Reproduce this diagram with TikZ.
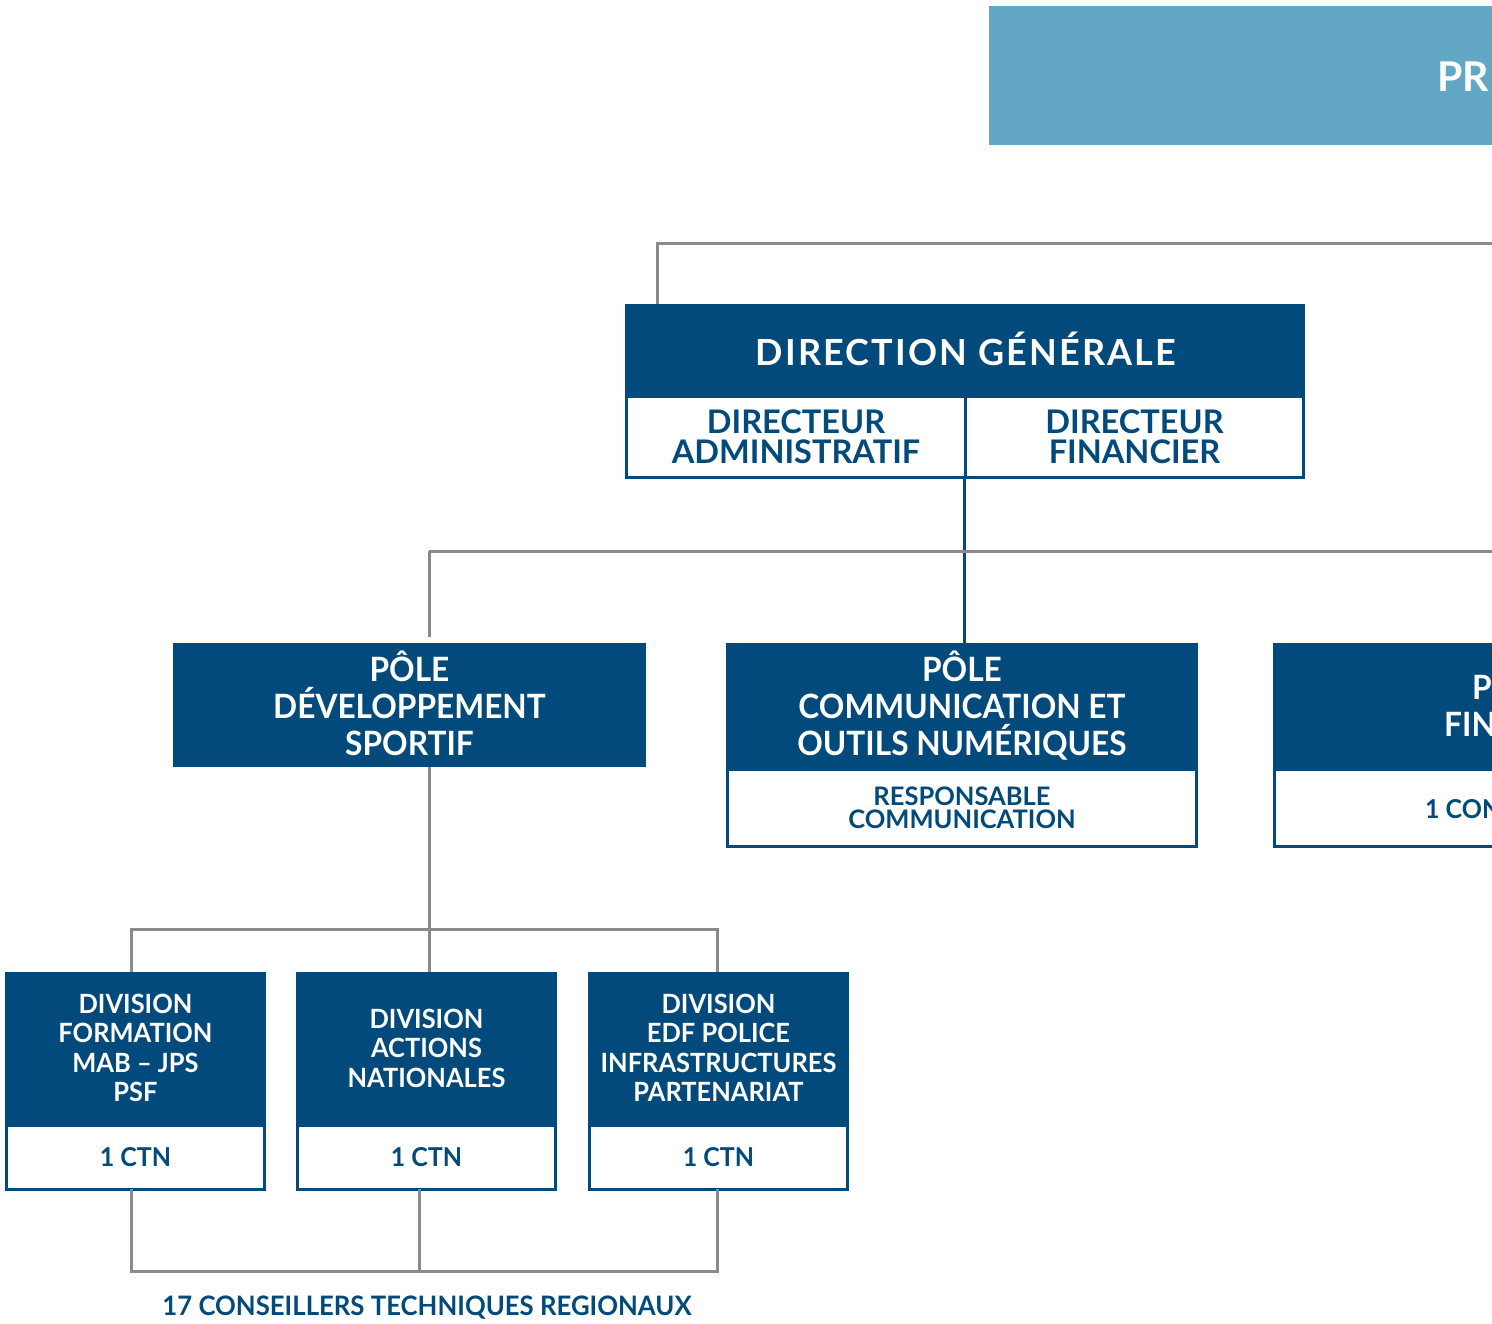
\documentclass[tikz,border=0pt]{standalone}
\usepackage{fontspec}
\setmainfont{Lato}
\newfontfamily\pfam{Lato}[FakeStretch=0.945]
\newfontfamily\dfam{Lato}[FakeStretch=0.96]
\newfontfamily\hfam{Lato}[LetterSpace=6]
\definecolor{db}{HTML}{034A7C}
\definecolor{lb}{HTML}{62A7C5}
\definecolor{lg}{HTML}{8A8A8A}
\newcommand{\fs}[2]{\fontsize{#1}{#2}\selectfont\bfseries}
\tikzset{
  hdr/.style={rectangle, fill=db, text=white, inner sep=0pt, outer sep=0pt, align=center},
  subbox/.style={rectangle, fill=white, draw=db, line width=3pt, text=db, inner sep=0pt, outer sep=0pt, align=center},
  gline/.style={draw=lg, line width=3pt},
  bline/.style={draw=db, line width=2.5pt},
  frag/.style={inner sep=0pt, anchor=base west},
}
\begin{document}
\begin{tikzpicture}[x=1pt,y=-1pt]
\useasboundingbox (0,0) rectangle (1492,1324);
\clip (0,0) rectangle (1492,1324);
% top banner
\node[hdr, fill=lb, minimum width=600, minimum height=139, anchor=north west] (pres) at (989,6) {};
\node[frag, text=white, font=\fs{41}{45}] (prest) at (1437,92) {PR};
% direction generale
\node[hdr, minimum width=680, minimum height=92] (dg) at (965,350) {};
\node[text=white, font=\hfam\fs{36}{40}, inner sep=0pt] (dgt) at (966,349) {DIRECTION GÉNÉRALE};
\node[subbox, minimum width=338.5, minimum height=81, font=\fs{32.5}{30}] (dga) at (796,437) {DIRECTEUR\\ADMINISTRATIF};
\node[subbox, minimum width=338.5, minimum height=81, font=\fs{32.5}{30}] (dgf) at (1134.5,437) {DIRECTEUR\\FINANCIER};
% top gray connector
\coordinate (topR) at (1500,244);
\draw[gline] ([xshift=32pt]dg.north west) |- (topR);
% poles
\node[hdr, minimum width=473, minimum height=124] (pds) at (409.5,705) {};
\node[text=white, inner sep=0pt, align=center, font=\pfam\fs{33.5}{37}] (pdst) at (409.5,703.5) {PÔLE\\DÉVELOPPEMENT\\SPORTIF};
\node[hdr, minimum width=472, minimum height=125, font=\pfam\fs{33.5}{37}] (pc) at (962,705.5) {PÔLE\\COMMUNICATION ET\\OUTILS NUMÉRIQUES};
\node[subbox, minimum width=469, minimum height=77, font=\fs{25.5}{23}] (pcs) at (962,807.5) {RESPONSABLE\\COMMUNICATION};
\node[hdr, minimum width=300, minimum height=125, anchor=north west] (pf) at (1273,643) {};
\node[subbox, minimum width=300, minimum height=77, anchor=north west] (pfs) at (1274.5,769.5) {};
\node[frag, text=white, font=\pfam\fs{33.5}{37}] (pft1) at (1472,699) {PÔ};
\node[frag, text=white, font=\pfam\fs{33.5}{37}] (pft2) at (1444,736) {FIN};
\node[frag, text=db, font=\dfam\fs{26}{30}] (pfst) at (1425,818) {1 CON};
% blue connector DG -> PC
\draw[bline] ([xshift=-1pt]dga.south east) -- ([xshift=-1pt]dga.south east |- pc.north);
% gray connector level 2
\coordinate (midR) at (1500,551);
\coordinate (j1) at (429,551);
\draw[gline] (j1) -- (midR);
\draw[gline] (j1) -- ([yshift=6pt]j1 |- pds.north);
% divisions
\node[hdr, minimum width=261, minimum height=152, font=\dfam\fs{26.5}{29.5}] (d1) at (135.5,1048) {DIVISION\\FORMATION\\MAB – JPS\\PSF};
\node[hdr, minimum width=261, minimum height=152, font=\dfam\fs{26.5}{29.5}] (d2) at (426.5,1048) {DIVISION\\ACTIONS\\NATIONALES};
\node[hdr, minimum width=261, minimum height=152, font=\dfam\fs{26.5}{29.5}] (d3) at (718.5,1048) {DIVISION\\EDF POLICE\\INFRASTRUCTURES\\PARTENARIAT};
\node[subbox, minimum width=258, minimum height=64, font=\dfam\fs{26}{30}] (d1s) at (135.5,1157) {1 CTN};
\node[subbox, minimum width=258, minimum height=64, font=\dfam\fs{26}{30}] (d2s) at (426.5,1157) {1 CTN};
\node[subbox, minimum width=258, minimum height=64, font=\dfam\fs{26}{30}] (d3s) at (718.5,1157) {1 CTN};
% gray connector level 3
\coordinate (j2) at (429,929);
\draw[gline] (pds.south -| j2) -- (j2);
\draw[gline] ([xshift=-4.5pt]d1.north) |- (j2) -| ([xshift=-1.5pt]d3.north);
\draw[gline] (j2) -- (j2 |- d2.north);
% bottom connector
\coordinate (j3) at (419,1271);
\draw[gline] ([xshift=-4.5pt]d1s.south) |- (j3) -| ([xshift=-1.5pt]d3s.south);
\draw[gline] (j3) -- (j3 |- d2s.south);
\node[text=db, font=\dfam\fs{26.8}{30}, inner sep=0pt] (ctr) at (427,1308) {17 CONSEILLERS TECHNIQUES REGIONAUX};
\end{tikzpicture}
\end{document}
